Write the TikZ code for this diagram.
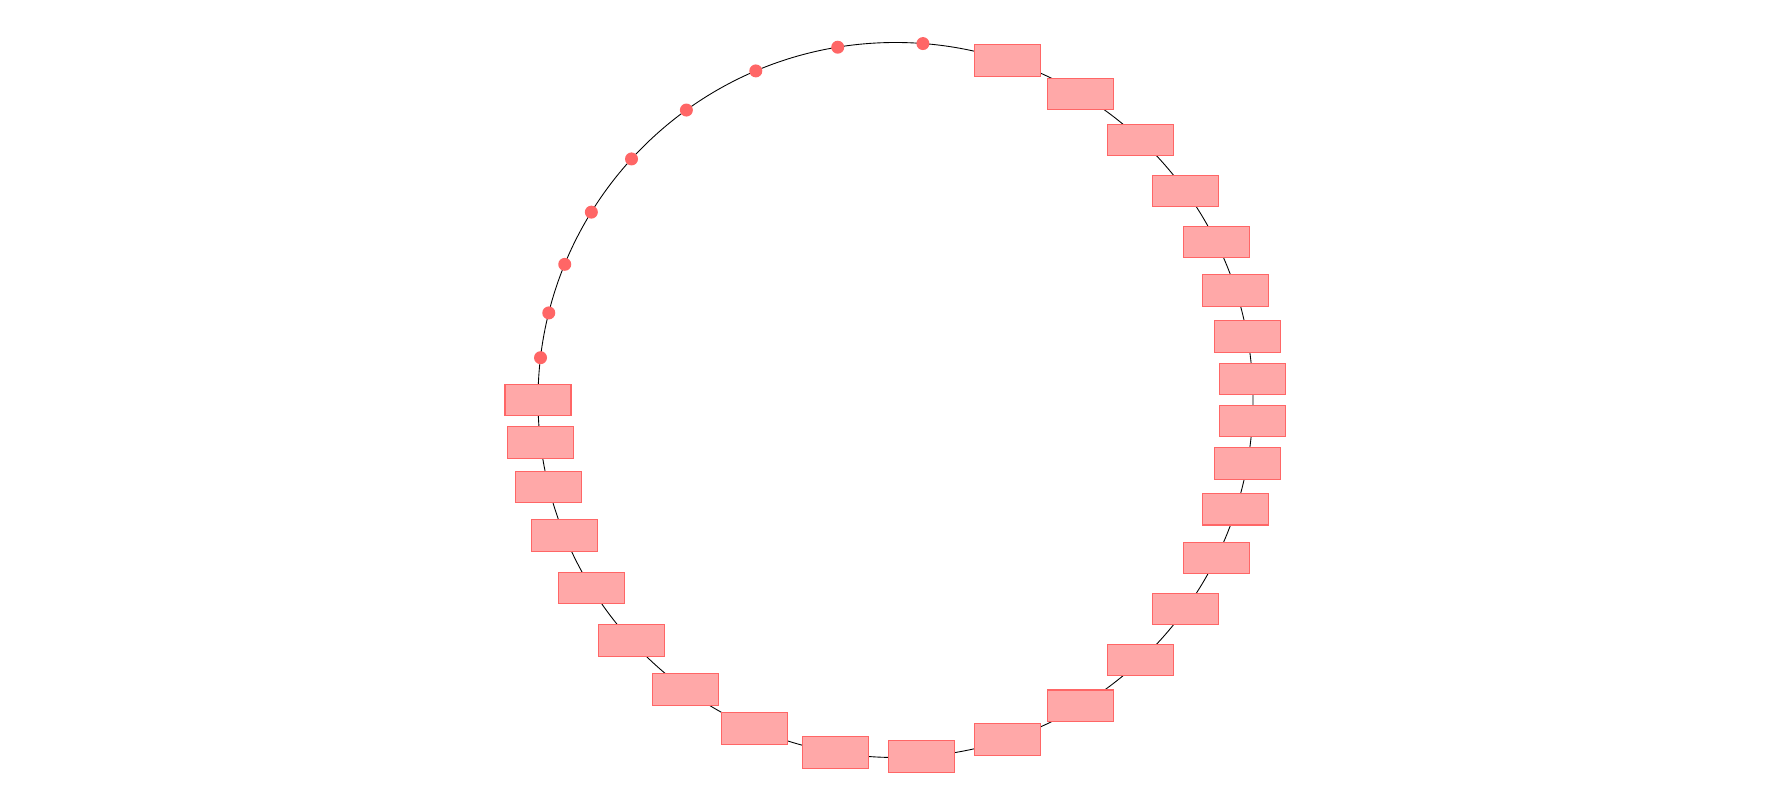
\documentclass[tikz,border=0pt]{standalone}
\definecolor{slotfill}{HTML}{FFA8A8}
\definecolor{slotline}{HTML}{FF6666}
\begin{document}
\begin{tikzpicture}[
  slot/.style={draw=slotline,fill=slotfill,line width=0.6pt,
    minimum width=1.32cm,minimum height=0.63cm,inner sep=0pt},
  pin/.style={circle,fill=slotline,minimum size=0.26cm,inner sep=0pt}]
  \useasboundingbox (-17.91,-8) rectangle (17.93,8);
  \coordinate (ring) at (0,0);
  \draw[black,line width=0.5pt] (ring) circle (7.15);
  % free places, upper left
  \node[pin] (d1) at (85.6:7.15) {};
  \node[pin] (d2) at (99.3:7.15) {};
  \node[pin] (d3) at (113.0:7.15) {};
  \node[pin] (d4) at (125.8:7.15) {};
  \node[pin] (d5) at (137.6:7.15) {};
  \node[pin] (d6) at (148.3:7.15) {};
  \node[pin] (d7) at (157.7:7.15) {};
  \node[pin] (d8) at (165.9:7.15) {};
  \node[pin] (d9) at (173.2:7.15) {};
  % taken places, clockwise from the top
  \node[slot] (b1) at (71.7:7.15) {};
  \node[slot] (b2) at (58.8:7.15) {};
  \node[slot] (b3) at (46.7:7.15) {};
  \node[slot] (b4) at (35.8:7.15) {};
  \node[slot] (b5) at (26.2:7.15) {};
  \node[slot] (b6) at (17.8:7.15) {};
  \node[slot] (b7) at (10.25:7.15) {};
  \node[slot] (b8) at (3.4:7.15) {};
  \node[slot] (b9) at (-3.4:7.15) {};
  \node[slot] (b10) at (-10.25:7.15) {};
  \node[slot] (b11) at (-17.8:7.15) {};
  \node[slot] (b12) at (-26.2:7.15) {};
  \node[slot] (b13) at (-35.8:7.15) {};
  \node[slot] (b14) at (-46.7:7.15) {};
  \node[slot] (b15) at (-58.8:7.15) {};
  \node[slot] (b16) at (-71.7:7.15) {};
  \node[slot] (b17) at (-85.9:7.15) {};
  \node[slot] (b18) at (-99.6:7.15) {};
  \node[slot] (b19) at (-113.2:7.15) {};
  \node[slot] (b20) at (-125.9:7.15) {};
  \node[slot] (b21) at (-137.7:7.15) {};
  \node[slot] (b22) at (-148.3:7.15) {};
  \node[slot] (b23) at (-157.7:7.15) {};
  \node[slot] (b24) at (-165.9:7.15) {};
  \node[slot] (b25) at (-173.2:7.15) {};
  \node[slot] (b26) at (180:7.15) {};
\end{tikzpicture}
\end{document}
